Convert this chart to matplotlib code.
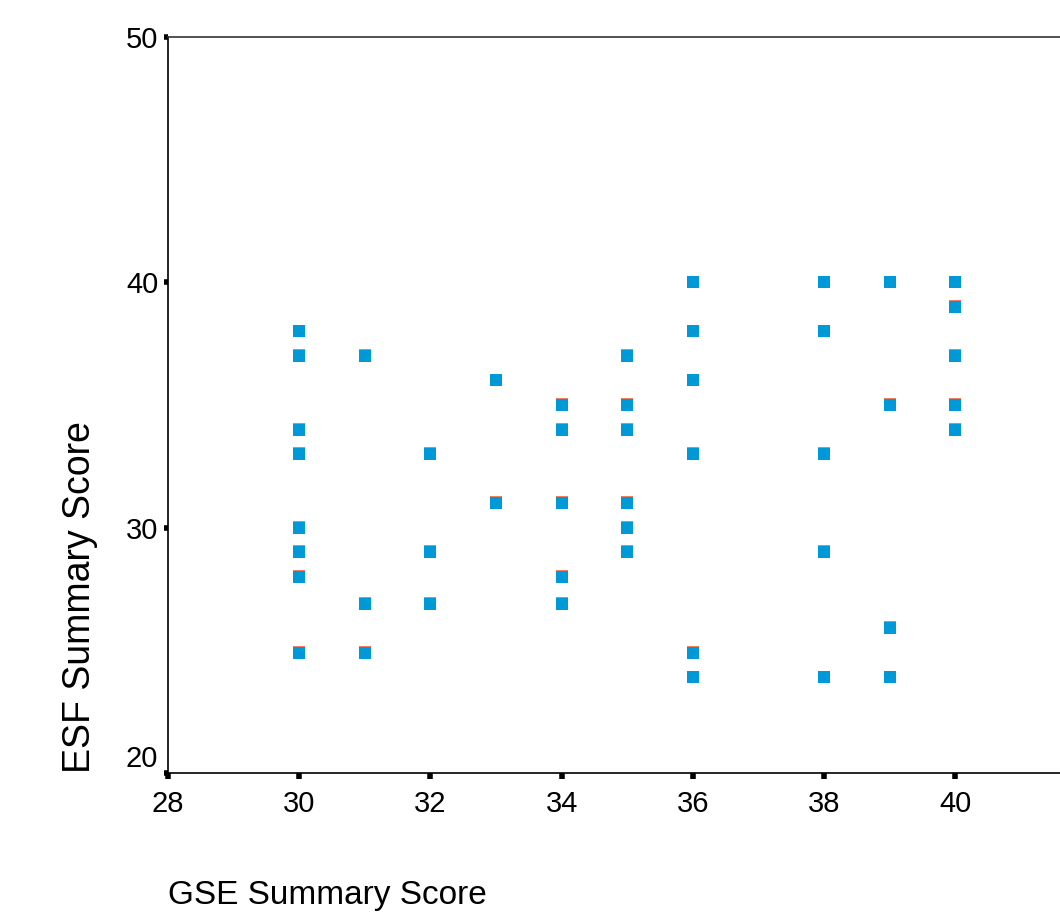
import matplotlib
matplotlib.use("Agg")
import matplotlib.pyplot as plt
import matplotlib.transforms as mtransforms

# GSE (x) vs ESF (y) summary scores
gse = [30, 30, 30, 30, 30, 30, 30, 30,
       31, 31, 31,
       32, 32, 32,
       33, 33,
       34, 34, 34, 34, 34,
       35, 35, 35, 35, 35, 35,
       36, 36, 36, 36, 36, 36,
       38, 38, 38, 38, 38,
       39, 39, 39, 39,
       40, 40, 40, 40, 40]
esf = [38, 37, 34, 33, 30, 29, 28, 24.9,
       37, 26.9, 24.9,
       33, 29, 26.9,
       36, 31,
       35, 34, 31, 28, 26.9,
       37, 35, 34, 31, 30, 29,
       40, 38, 36, 33, 24.9, 23.9,
       40, 38, 33, 29, 23.9,
       40, 35, 25.9, 23.9,
       40, 39, 37, 35, 34]

x_ticks = [28, 30, 32, 34, 36, 38, 40]
y_ticks = [20, 30, 40, 50]

W, H = 1060, 913
fig = plt.figure(figsize=(W / 100, H / 100), dpi=100)
fam = ['Liberation Sans Narrow', 'Liberation Sans', 'DejaVu Sans']

left, right, top, bottom = 168, 1060, 37, 773
ax = fig.add_axes([left / W, 1 - bottom / H, (right - left) / W, (bottom - top) / H])
ax.set_xlim(28, 28 + (right - left) / 65.6)
ax.set_ylim(20, 50)

# red series sits just under the blue one
shift = mtransforms.offset_copy(ax.transData, fig=fig, x=0, y=0.8, units='dots')
ax.plot(gse, esf, 's', color='#F08060', markersize=8.7, markeredgewidth=0,
        transform=shift, clip_on=False)
ax.plot(gse, esf, 's', color='#0099D8', markersize=8.7, markeredgewidth=0,
        clip_on=False)

ax.spines['right'].set_visible(False)
ax.spines['left'].set_linewidth(1.2)
ax.spines['bottom'].set_linewidth(1.2)
ax.spines['top'].set_linewidth(1.2)
ax.spines['top'].set_color('#333333')

ax.set_xticks(x_ticks)
ax.set_yticks(y_ticks)
ax.set_xticklabels([str(v) for v in x_ticks], family=fam, fontsize=21)
ax.set_yticklabels([str(v) for v in y_ticks], family=fam, fontsize=21)
ax.tick_params(axis='x', direction='out', length=4, width=4, pad=8, colors='black')
ax.tick_params(axis='y', direction='out', length=3, width=4, pad=4, colors='black')
ax.get_yticklabels()[0].set_va('bottom')

fig.text(80 / W, 1 - 597 / H, 'ESF Summary Score', rotation=90, ha='center', va='center',
         family=['Liberation Sans', 'DejaVu Sans'], fontsize=27)
fig.text(168 / W, 1 - 895 / H, 'GSE Summary Score', ha='left', va='center',
         family=fam, fontsize=24)

fig.savefig('out.png', dpi=100)
